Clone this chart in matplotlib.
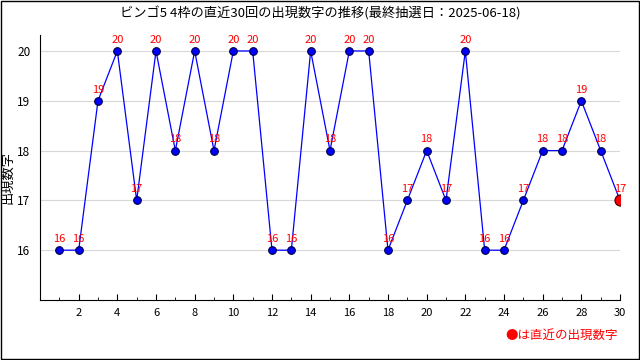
import matplotlib
matplotlib.use("Agg")
import matplotlib.pyplot as plt
from matplotlib.ticker import MultipleLocator

plt.rcParams['font.family'] = ['Noto Sans CJK JP', 'DejaVu Sans']

# draw number (1..30) and the number that came out
draws = list(range(1, 31))
numbers = [16, 16, 19, 20, 17, 20, 18, 20, 18, 20,
           20, 16, 16, 20, 18, 20, 20, 16, 17, 18,
           17, 20, 16, 16, 17, 18, 18, 19, 18, 17]
xticks = list(range(2, 31, 2))

title = "ビンゴ5 4枠の直近30回の出現数字の推移(最終抽選日：2025-06-18)"
ylabel = "出現数字"
note = "●は直近の出現数字"

fig = plt.figure(figsize=(6.4, 3.6), dpi=100)
ax = fig.add_axes([0.0625, 0.1667, 0.90625, 0.736])

# outer frame
fig.patches.append(plt.Rectangle((0.001, 0.002), 0.997, 0.995, transform=fig.transFigure,
                                 fill=False, edgecolor='black', linewidth=1.0))

ax.plot(draws, numbers, color='blue', linewidth=0.9, zorder=2)
ax.plot(draws[:-1], numbers[:-1], 'o', color='blue', markeredgecolor='#000040',
        markeredgewidth=0.8, markersize=5.5, zorder=3)
ax.plot(draws[-1], numbers[-1], 'o', color='red', markeredgecolor='#400000',
        markeredgewidth=0.8, markersize=8, zorder=4)

for x, y in zip(draws, numbers):
    ax.annotate(str(y), (x, y), xytext=(0, 4.5), textcoords='offset points',
                ha='center', va='bottom', color='red', fontsize=8)

ax.set_xlim(0, 30)
ax.set_ylim(15, 20.32)
ax.set_xticks(xticks)
ax.xaxis.set_minor_locator(MultipleLocator(1))
ax.set_yticks([16, 17, 18, 19, 20])
ax.tick_params(axis='x', which='major', direction='in', length=4, labelsize=8, pad=6)
ax.tick_params(axis='x', which='minor', direction='in', length=2)
ax.tick_params(axis='y', length=0, labelsize=8.5, pad=7)
ax.grid(axis='y', color='#d8d8d8', linewidth=0.8)
ax.set_axisbelow(True)

for s in ['top', 'right']:
    ax.spines[s].set_visible(False)

fig.text(0.0125, 0.508, ylabel, rotation=90, ha='center', va='center', fontsize=9.5)
fig.text(0.5, 0.962, title, ha='center', va='center', fontsize=9.5)
fig.text(0.965, 0.068, note, ha='right', va='center', color='red', fontsize=9)

fig.savefig("out.png", dpi=100)
